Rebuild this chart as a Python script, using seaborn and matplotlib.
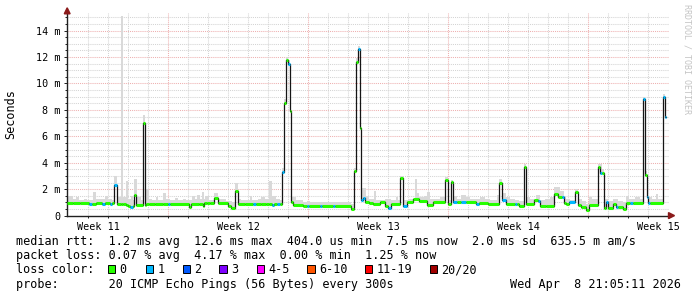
import numpy as np
import pandas as pd
import matplotlib
matplotlib.use("Agg")
import matplotlib.pyplot as plt
from matplotlib.patches import Rectangle, Polygon
import seaborn as sns

# ---------------- data ----------------
# time in days since start of the 30-day window; each value holds until the next time
time_days = [-0.05, 0.25, 0.6, 1.05, 1.2, 1.4, 1.7, 1.85, 2.1, 2.2,
             2.3, 2.45, 2.65, 2.75, 2.9, 3.0, 3.1, 3.25, 3.3, 3.4,
             3.75, 3.825, 3.9, 4.05, 4.35, 4.75, 5.0, 5.1, 6.05, 6.15,
             6.55, 6.75, 6.8, 6.95, 7.1, 7.3, 7.5, 8.0, 8.15, 8.35,
             8.5, 8.85, 9.25, 9.4, 9.65, 9.9, 10.05, 10.2, 10.3, 10.45,
             10.6, 10.7, 10.8, 10.9, 10.975, 11.075, 11.125, 11.25, 11.75, 11.95,
             12.05, 12.6, 12.7, 13.25, 13.35, 14.15, 14.3, 14.375, 14.475, 14.575,
             14.625, 14.75, 14.85, 15.05, 15.25, 15.6, 15.85, 16.0, 16.15, 16.6,
             16.75, 16.95, 17.25, 17.55, 17.95, 18.25, 18.85, 18.975, 19.15, 19.25,
             19.45, 19.65, 19.9, 20.4, 20.55, 21.0, 21.55, 21.675, 21.9, 22.35,
             22.45, 22.55, 22.8, 22.9, 23.3, 23.5, 23.6, 23.9, 24.3, 24.5,
             24.7, 24.8, 24.9, 25.05, 25.35, 25.5, 25.65, 25.9, 26.05, 26.5,
             26.6, 26.7, 26.775, 26.9, 27.0, 27.25, 27.4, 27.5, 27.75, 27.9,
             28.1, 28.25, 28.75, 28.85, 28.925, 29.0, 29.1, 29.75, 29.85]
time_end = 29.9

median_ms = [0.95, 0.95, 0.95, 0.9, 0.85, 0.95, 0.9, 0.95, 0.9, 0.95,
             2.35, 0.9, 0.9, 0.85, 0.8, 0.75, 0.65, 0.75, 1.6, 0.8,
             7.0, 0.8, 0.85, 0.9, 0.9, 0.9, 0.85, 0.9, 0.65, 0.85,
             0.85, 0.75, 0.95, 0.95, 0.95, 1.35, 0.95, 0.7, 0.58, 1.9,
             0.85, 0.9, 0.85, 0.9, 0.85, 0.85, 0.85, 0.8, 0.9, 0.9,
             0.9, 3.3, 8.5, 11.8, 11.5, 7.9, 1.0, 0.8, 0.75, 0.75,
             0.72, 0.7, 0.7, 0.72, 0.75, 0.5, 3.4, 11.6, 12.6, 6.6,
             1.2, 1.35, 1.0, 0.95, 0.85, 1.0, 0.75, 0.6, 0.85, 2.85,
             0.7, 1.05, 1.3, 1.1, 0.8, 1.0, 2.7, 0.9, 2.55, 1.0,
             1.0, 1.0, 1.0, 0.85, 0.95, 0.85, 2.5, 1.2, 0.9, 0.85,
             0.85, 0.7, 3.65, 0.85, 1.15, 1.1, 0.75, 0.7, 1.65, 1.4,
             1.4, 0.95, 0.85, 1.0, 1.8, 0.8, 0.65, 0.4, 0.8, 3.7,
             3.2, 3.2, 0.55, 1.0, 0.55, 0.85, 0.65, 0.65, 0.5, 0.95,
             0.95, 0.95, 8.8, 3.1, 1.45, 0.95, 0.95, 9.0, 7.5]

# index into loss categories (0 -> "0" lost, 1 -> "1" lost)
loss_index = [0, 0, 0, 1, 0, 0, 1, 0, 1, 0,
              1, 0, 0, 0, 0, 0, 1, 0, 0, 0,
              0, 0, 0, 0, 0, 0, 1, 0, 0, 0,
              0, 0, 0, 0, 0, 0, 0, 0, 0, 0,
              0, 0, 1, 0, 0, 0, 0, 1, 0, 1,
              0, 1, 0, 0, 1, 0, 0, 0, 0, 1,
              0, 1, 0, 1, 0, 0, 0, 0, 1, 0,
              1, 1, 0, 0, 0, 0, 0, 1, 0, 0,
              1, 0, 0, 0, 0, 0, 0, 0, 0, 1,
              0, 1, 0, 1, 0, 0, 0, 1, 0, 1,
              0, 0, 0, 0, 0, 1, 0, 0, 0, 0,
              1, 0, 0, 1, 0, 0, 0, 0, 0, 0,
              1, 0, 0, 1, 0, 0, 1, 0, 0, 0,
              1, 0, 1, 0, 1, 1, 0, 1, 1]

# smoke (max of the 20 pings), own step series
smoke_days = [-0.05, 0.25, 0.4, 0.55, 0.8, 0.95, 1.25, 1.4, 1.6, 1.85,
              2.0, 2.2, 2.3, 2.45, 2.65, 2.75, 2.9, 3.0, 3.15, 3.25,
              3.3, 3.45, 3.65, 3.75, 3.825, 3.9, 4.05, 4.2, 4.4, 4.5,
              4.75, 4.9, 5.1, 5.35, 5.5, 5.75, 5.9, 6.2, 6.35, 6.45,
              6.6, 6.675, 6.775, 6.85, 7.05, 7.3, 7.5, 7.7, 7.9, 8.2,
              8.35, 8.5, 8.65, 9.1, 9.2, 9.5, 9.65, 9.85, 10.05, 10.2,
              10.4, 10.6, 10.7, 10.8, 10.9, 10.975, 11.075, 11.125, 11.4, 11.6,
              11.75, 11.95, 12.1, 14.15, 14.3, 14.375, 14.475, 14.575, 14.625, 14.9,
              15.05, 15.3, 15.4, 15.85, 16.15, 16.4, 16.5, 16.6, 16.75, 17.0,
              17.35, 17.425, 17.55, 17.8, 17.95, 18.1, 18.6, 18.85, 18.975, 19.15,
              19.25, 19.45, 19.65, 19.9, 20.1, 20.6, 20.85, 21.1, 21.45, 21.55,
              21.7, 21.9, 22.1, 22.35, 22.55, 22.8, 22.9, 23.1, 23.4, 23.6,
              23.85, 24.1, 24.3, 24.6, 24.8, 24.9, 25.1, 25.35, 25.5, 25.7,
              25.9, 26.05, 26.2, 26.5, 26.7, 26.775, 27.0, 27.25, 27.5, 27.75,
              27.9, 28.05, 28.35, 28.6, 28.75, 28.85, 28.925, 29.0, 29.2, 29.4,
              29.5, 29.75, 29.85]
smoke_max_ms = [1.5, 1.25, 1.4, 1.2, 1.3, 1.15, 1.8, 1.3, 1.25, 1.5,
                1.3, 1.2, 3.0, 1.4, 15.1, 1.4, 2.6, 1.3, 1.5, 1.2,
                2.8, 1.4, 1.2, 7.6, 1.3, 2.0, 1.3, 1.2, 1.4, 1.2,
                1.7, 1.3, 1.2, 1.35, 1.2, 1.3, 1.2, 1.5, 1.3, 1.6,
                1.3, 1.8, 1.3, 1.5, 1.2, 1.7, 1.25, 1.3, 1.1, 1.0,
                2.5, 1.3, 1.2, 1.5, 1.2, 1.3, 1.45, 1.3, 2.65, 1.5,
                1.3, 1.2, 3.6, 8.8, 12.0, 11.8, 8.2, 1.4, 1.2, 1.15,
                1.05, 1.1, 1.0, 0.9, 3.6, 11.9, 12.8, 7.0, 2.1, 1.5,
                1.3, 1.9, 1.2, 1.3, 1.2, 1.4, 1.2, 3.0, 1.2, 1.3,
                2.8, 1.7, 1.4, 1.5, 1.8, 1.3, 1.4, 2.9, 1.2, 2.7,
                1.5, 1.3, 1.6, 1.4, 1.3, 1.4, 1.3, 1.2, 1.6, 2.8,
                1.7, 1.4, 1.3, 1.2, 1.1, 3.9, 1.4, 1.3, 1.6, 1.2,
                1.3, 1.4, 2.15, 1.9, 1.5, 1.3, 1.2, 2.0, 1.3, 1.1,
                0.9, 1.4, 1.3, 3.9, 3.5, 1.3, 1.1, 1.25, 1.1, 1.0,
                1.5, 1.3, 1.4, 1.3, 9.0, 3.4, 1.9, 1.4, 1.3, 1.65,
                1.3, 9.2, 7.8]

loss_labels = ["0", "1", "2", "3", "4-5", "6-10", "11-19", "20/20"]
loss_colors = ["#26ff00", "#00b8ff", "#0059ff", "#7e00ff",
               "#ff00ff", "#ff5500", "#ff0000", "#a00000"]

week_labels = ["Week 11", "Week 12", "Week 13", "Week 14", "Week 15"]
week_label_days = [1.5, 8.5, 15.5, 22.5, 29.5]
week_grid_days = [5, 12, 19, 26]
ytick_vals = [0, 2, 4, 6, 8, 10, 12, 14]
ytick_labels = ["0", "2 m", "4 m", "6 m", "8 m", "10 m", "12 m", "14 m"]

legend_lines = [
    "median rtt:  1.2 ms avg  12.6 ms max  404.0 us min  7.5 ms now  2.0 ms sd  635.5 m am/s",
    "packet loss: 0.07 % avg  4.17 % max  0.00 % min  1.25 % now",
]
probe_text = "probe:       20 ICMP Echo Pings (56 Bytes) every 300s"
date_text = "Wed Apr  8 21:05:11 2026"

# ---------------- figure ----------------
W, H = 697, 297
plt.rcParams["font.family"] = ["DejaVu Sans Mono"]
fig = plt.figure(figsize=(W / 100, H / 100), dpi=100)
fig.patch.set_facecolor("white")

def fx(x):
    return x / W

def fy(y):
    return 1 - y / H

ax_l, ax_r, ax_t, ax_b = 67, 668.5, 13.4, 215.7
ax = fig.add_axes([fx(ax_l), fy(ax_b), (ax_r - ax_l) / W, (ax_b - ax_t) / H])
ax.set_facecolor("white")
ax.set_xlim(-0.065, 30.0)
ax.set_ylim(0, 15.3)

minor_c = "#d4d4d4"
major_c = "#eeb0b0"
dots = (0, (1, 1))
for v in np.arange(0.5, 15.3, 0.5):
    col = major_c if abs(v % 2) < 1e-9 else minor_c
    ax.axhline(v, color=col, lw=0.75, ls=dots, zorder=0.5)
for d in range(1, 31):
    col = major_c if d in week_grid_days else minor_c
    ax.axvline(d, color=col, lw=0.75, ls=dots, zorder=0.5)

t_edges = np.array(time_days + [time_end])
med = np.array(median_ms)
med_ext = np.append(med, med[-1])

# smoke: sample both step series on the union of their breakpoints
s_t = np.array(smoke_days)
s_v = np.array(smoke_max_ms)
u = np.union1d(np.append(s_t, time_end), t_edges)
m_u = med[np.clip(np.searchsorted(t_edges[:-1], u, side="right") - 1, 0, len(med) - 1)]
s_u = s_v[np.clip(np.searchsorted(s_t, u, side="right") - 1, 0, len(s_v) - 1)]
ax.fill_between(u, m_u, np.maximum(s_u, m_u), step="post", color="#d9d9d9", lw=0, zorder=1)

# median (thin dark step line)
df = pd.DataFrame({"t": t_edges, "median": med_ext})
sns.lineplot(data=df, x="t", y="median", drawstyle="steps-post", color="#151515",
             lw=0.9, ax=ax, estimator=None, legend=False, zorder=2)

# loss-coloured median segments
ax.hlines(med, t_edges[:-1], t_edges[1:], colors=[loss_colors[i] for i in loss_index],
          lw=2.2, zorder=3, capstyle="butt")

# axes styling
for s in ["top", "right"]:
    ax.spines[s].set_visible(False)
for s in ["left", "bottom"]:
    ax.spines[s].set_color("#202020")
    ax.spines[s].set_linewidth(1.0)
ax.set_xlabel("")
ax.set_ylabel("")
ax.set_xticks(week_label_days)
ax.set_xticklabels(week_labels)
ax.set_xticks(list(range(1, 31)), minor=True)
ax.set_yticks(ytick_vals)
ax.set_yticklabels(ytick_labels)
ax.set_yticks(np.arange(0.5, 15.3, 0.5), minor=True)
ax.tick_params(axis="x", which="major", length=0, pad=4.2, labelsize=7.3, colors="#000000")
ax.tick_params(axis="x", which="minor", length=1.5, width=0.7, color="#202020")
ax.tick_params(axis="y", which="major", length=2.2, width=0.7, pad=2.6, labelsize=7.3,
               color="#202020", labelcolor="#000000")
ax.tick_params(axis="y", which="minor", length=1.5, width=0.7, color="#202020")

# arrows
arrow_c = "#8b1a1a"
fig.patches.append(Polygon([[fx(64.3), fy(13.8)], [fx(70.1), fy(13.8)], [fx(67.2), fy(7.8)]],
                           closed=True, transform=fig.transFigure, color=arrow_c, zorder=5))
fig.patches.append(Polygon([[fx(668.5), fy(212.6)], [fx(668.5), fy(218.6)], [fx(674.5), fy(215.6)]],
                           closed=True, transform=fig.transFigure, color=arrow_c, zorder=5))

# texts
fig.text(fx(10.5), fy(114), "Seconds", rotation=90, ha="center", va="center", fontsize=8.5)
fig.text(fx(687), fy(4.5), "RRDTOOL / TOBI OETIKER", rotation=270, ha="center", va="top",
         fontsize=6.0, color="#c4c4c4")

base = [245.0, 259.2, 273.4, 287.6]
fig.text(fx(16), fy(base[0]), legend_lines[0], ha="left", va="baseline", fontsize=8.5)
fig.text(fx(16), fy(base[1]), legend_lines[1], ha="left", va="baseline", fontsize=8.5)
fig.text(fx(16), fy(base[2]), "loss color:", ha="left", va="baseline", fontsize=8.5)
box_left = [108, 145.7, 182.7, 219.3, 256.7, 307.3, 365, 430]
for bx, lab, col in zip(box_left, loss_labels, loss_colors):
    fig.patches.append(Rectangle((fx(bx), fy(272.5)), 7.3 / W, 7.3 / H, transform=fig.transFigure,
                                 facecolor=col, edgecolor="#000000", lw=0.7))
    fig.text(fx(bx + 11.5), fy(base[2]), lab, ha="left", va="baseline", fontsize=8.5)
fig.text(fx(16), fy(base[3]), probe_text, ha="left", va="baseline", fontsize=8.5)
fig.text(fx(680.5), fy(base[3]), date_text, ha="right", va="baseline", fontsize=8.5)

fig.savefig("out.png", dpi=100, facecolor="white")
